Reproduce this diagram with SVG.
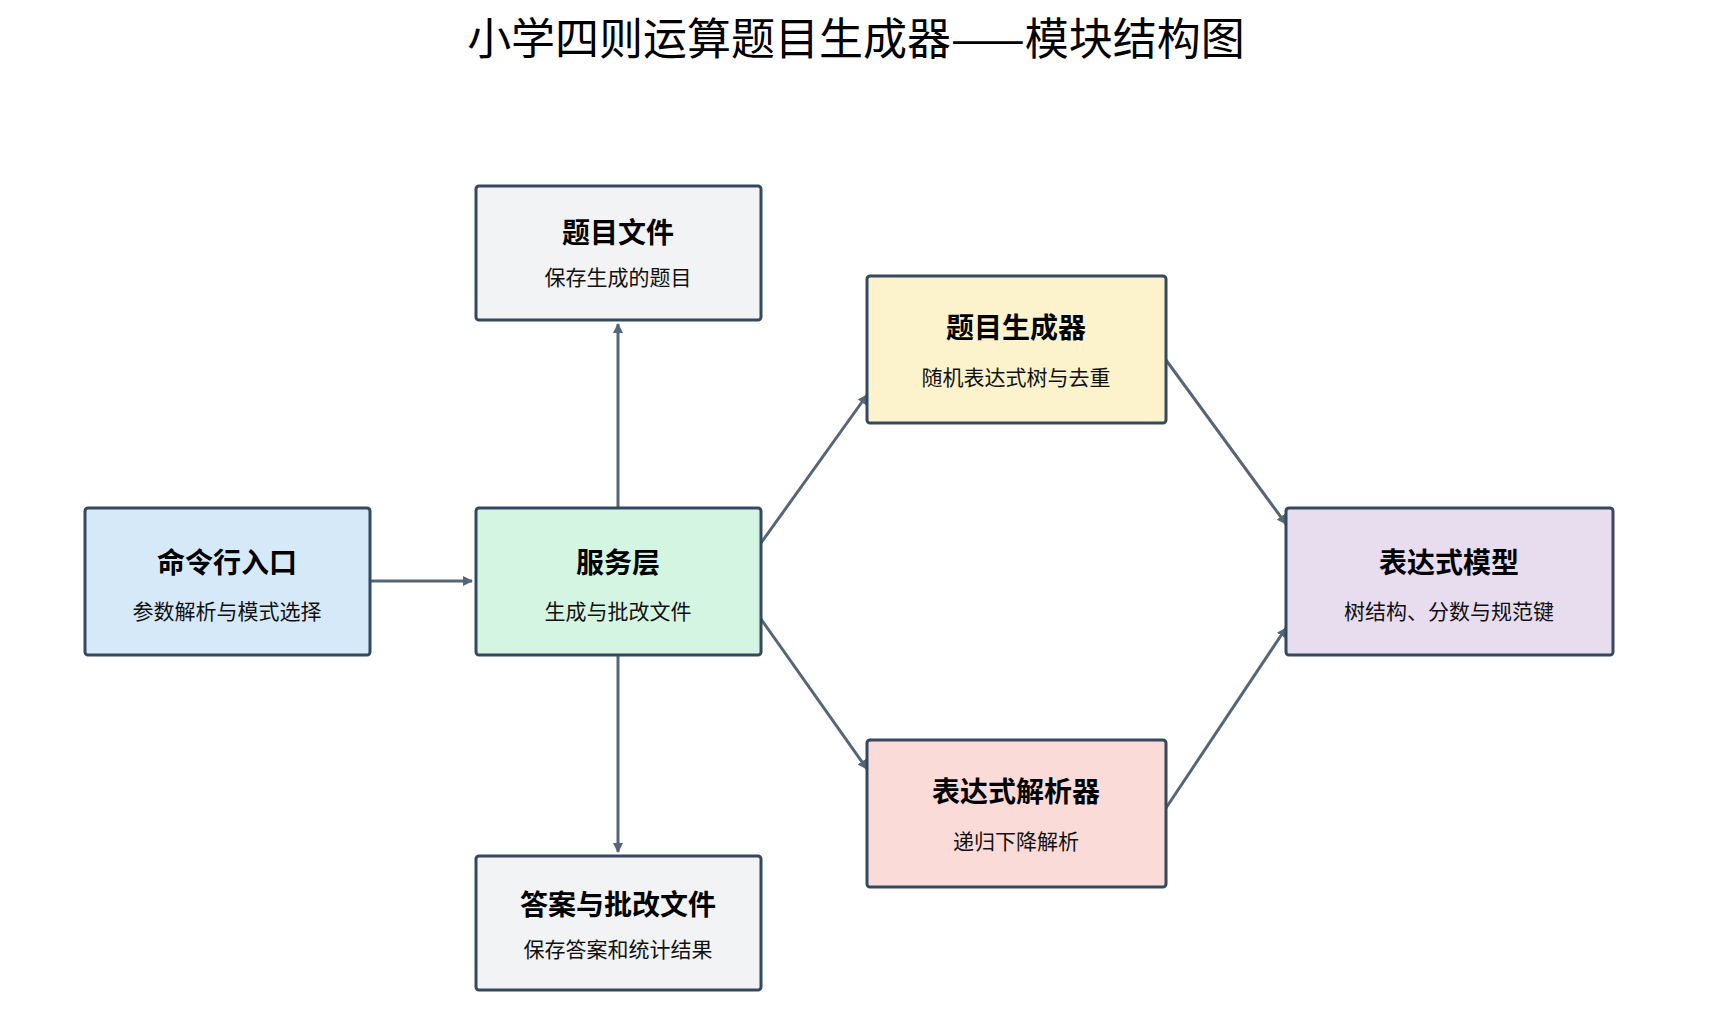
<svg xmlns="http://www.w3.org/2000/svg" width="1710" height="1017" viewBox="0 0 1710 1017">
<style>
.b{stroke:#34495e;stroke-width:3}
.t{font-family:"Noto Sans CJK SC",sans-serif;font-weight:bold;font-size:28px;text-anchor:middle;fill:#000}
.s{font-family:"Noto Sans CJK SC",sans-serif;font-size:21px;text-anchor:middle;fill:#111}
.c{stroke:#556677;stroke-width:3;fill:none;marker-end:url(#a)}
</style>
<defs><marker id="a" markerWidth="10" markerHeight="10" refX="9" refY="5" orient="auto" markerUnits="userSpaceOnUse" viewBox="0 0 10 10"><path d="M0,0L10,5L0,10z" fill="#556677"/></marker>
<marker id="a2" markerWidth="18" markerHeight="18" refX="16" refY="9" orient="auto" markerUnits="userSpaceOnUse"><path d="M0,0L18,9L0,18z" fill="#556677"/></marker></defs>
<rect width="1710" height="1017" fill="#fff"/>
<text x="856" y="55" font-family="Noto Sans CJK SC,sans-serif" font-size="44" text-anchor="middle">小学四则运算题目生成器——模块结构图</text>
<g id="connectors" style="--m:url(#a2)">
<line class="c" x1="370" y1="581" x2="472" y2="581" marker-end="url(#a2)"/>
<line class="c" x1="618" y1="508" x2="618" y2="324" marker-end="url(#a2)"/>
<line class="c" x1="618" y1="655" x2="618" y2="852" marker-end="url(#a2)"/>
<line class="c" x1="761" y1="543" x2="867" y2="395" marker-end="url(#a2)"/>
<line class="c" x1="761" y1="619" x2="867" y2="769" marker-end="url(#a2)"/>
<line class="c" x1="1166" y1="360" x2="1286" y2="524" marker-end="url(#a2)"/>
<line class="c" x1="1166" y1="808" x2="1286" y2="628" marker-end="url(#a2)"/>
</g>
<g id="cli"><rect class="b" x="85" y="508" width="285" height="147" rx="3" fill="#d6e9f8"/><text class="t" x="227" y="573">命令行入口</text><text class="s" x="227" y="619">参数解析与模式选择</text></g>
<g id="service"><rect class="b" x="476" y="508" width="285" height="147" rx="3" fill="#d4f5e2"/><text class="t" x="618" y="573">服务层</text><text class="s" x="618" y="619">生成与批改文件</text></g>
<g id="qfile"><rect class="b" x="476" y="186" width="285" height="134" rx="3" fill="#f2f3f5"/><text class="t" x="618" y="243">题目文件</text><text class="s" x="618" y="285">保存生成的题目</text></g>
<g id="afile"><rect class="b" x="476" y="856" width="285" height="134" rx="3" fill="#f2f3f5"/><text class="t" x="618" y="915">答案与批改文件</text><text class="s" x="618" y="957">保存答案和统计结果</text></g>
<g id="gen"><rect class="b" x="867" y="276" width="299" height="147" rx="3" fill="#fcf3cd"/><text class="t" x="1016" y="338">题目生成器</text><text class="s" x="1016" y="385">随机表达式树与去重</text></g>
<g id="parser"><rect class="b" x="867" y="740" width="299" height="147" rx="3" fill="#fadbd8"/><text class="t" x="1016" y="802">表达式解析器</text><text class="s" x="1016" y="849">递归下降解析</text></g>
<g id="model"><rect class="b" x="1286" y="508" width="327" height="147" rx="3" fill="#e8dcef"/><text class="t" x="1449" y="573">表达式模型</text><text class="s" x="1449" y="619">树结构、分数与规范键</text></g>
</svg>
